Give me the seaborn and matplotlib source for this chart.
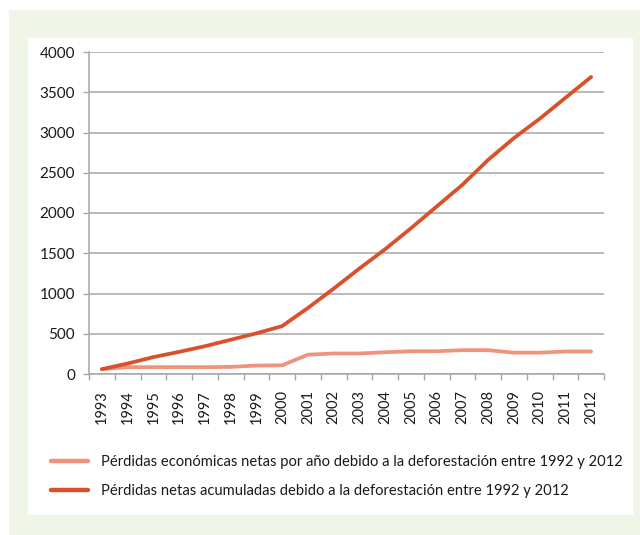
import matplotlib
matplotlib.use("Agg")
import matplotlib.pyplot as plt
from matplotlib.patches import Rectangle
import numpy as np
import pandas as pd
import seaborn as sns

# Years on the category axis
years = [str(y) for y in range(1993, 2013)]

# Net economic losses per year (millions)
perdidas_anuales = [60, 85, 85, 85, 85, 88, 105, 108, 240, 255, 255, 270,
                    283, 283, 296, 296, 265, 265, 280, 280]

# Accumulated net losses (millions)
perdidas_acumuladas = [60, 130, 210, 275, 345, 425, 505, 595, 820, 1060,
                       1310, 1550, 1810, 2080, 2350, 2660, 2930, 3170,
                       3430, 3690]

serie_anual = "Pérdidas económicas netas por año debido a la deforestación entre 1992 y 2012"
serie_acum = "Pérdidas netas acumuladas debido a la deforestación entre 1992 y 2012"

y_ticks = [0, 500, 1000, 1500, 2000, 2500, 3000, 3500, 4000]

df = pd.DataFrame({
    "año": years * 2,
    "valor": perdidas_anuales + perdidas_acumuladas,
    "serie": [serie_anual] * len(years) + [serie_acum] * len(years),
})

sns.set_theme(style="white")
plt.rcParams["font.family"] = ["Lato", "DejaVu Sans"]

W, H = 640, 535
fig = plt.figure(figsize=(W / 100, H / 100), dpi=100)
fig.patch.set_facecolor("white")


def fig_rect(x0, y0, x1, y1):
    """Rectangle in figure fraction from pixel box (top-left origin)."""
    return (x0 / W, 1 - y1 / H), (x1 - x0) / W, (y1 - y0) / H


# Light green frame and the white card inside it
(gx, gy), gw, gh = fig_rect(9, 10, 640, 535)
fig.patches.append(Rectangle((gx, gy), gw, gh, transform=fig.transFigure,
                             facecolor="#eff5e7", edgecolor="none", zorder=-2))
(wx, wy), ww, wh = fig_rect(28, 38, 633, 515)
fig.patches.append(Rectangle((wx, wy), ww, wh, transform=fig.transFigure,
                             facecolor="white", edgecolor="none", zorder=-1))

(ax_x, ax_y), ax_w, ax_h = fig_rect(89, 52, 604, 374)
ax = fig.add_axes([ax_x, ax_y, ax_w, ax_h])
ax.set_facecolor("none")

palette = {serie_anual: "#f0937c", serie_acum: "#d9512a"}
sns.lineplot(data=df, x="año", y="valor", hue="serie",
             hue_order=[serie_anual, serie_acum], palette=palette,
             linewidth=2.7, ax=ax, legend=True, sort=False)

ax.set_xlim(-0.5, len(years) - 0.5)
ax.set_ylim(0, 4000)
ax.set_yticks(y_ticks)
ax.set_yticklabels([str(v) for v in y_ticks], fontsize=11, color="#1a1a1a")
ax.set_xticks(np.arange(len(years)))
ax.set_xticklabels(years, rotation=90, fontsize=10.5, color="#1a1a1a")
ax.set_xticks(np.arange(len(years) + 1) - 0.5, minor=True)
ax.tick_params(axis="x", which="major", length=0, pad=11.5)
ax.tick_params(axis="x", which="minor", length=4, width=1, color="#a6a6a6",
               direction="out", bottom=True)
ax.tick_params(axis="y", length=4, width=1, color="#a6a6a6", direction="out",
               left=True, pad=6)
ax.set_xlabel("")
ax.set_ylabel("")

ax.grid(axis="y", color="#b3b3b3", linewidth=1.3)
ax.set_axisbelow(True)
for side in ["top", "right"]:
    ax.spines[side].set_visible(False)
for side in ["left", "bottom"]:
    ax.spines[side].set_color("#a6a6a6")
    ax.spines[side].set_linewidth(1.1)

handles, labels = ax.get_legend_handles_labels()
ax.get_legend().remove()
for h in handles:
    h.set_linewidth(3.2)
fig.legend(handles, labels, loc="upper left",
           bbox_to_anchor=(51 / W, 1 - 455 / H), frameon=False,
           fontsize=10.6, handlelength=2.5, handletextpad=0.88,
           labelspacing=1.0, borderpad=0, borderaxespad=0,
           labelcolor="#1a1a1a")

fig.savefig("out.png", dpi=100)
